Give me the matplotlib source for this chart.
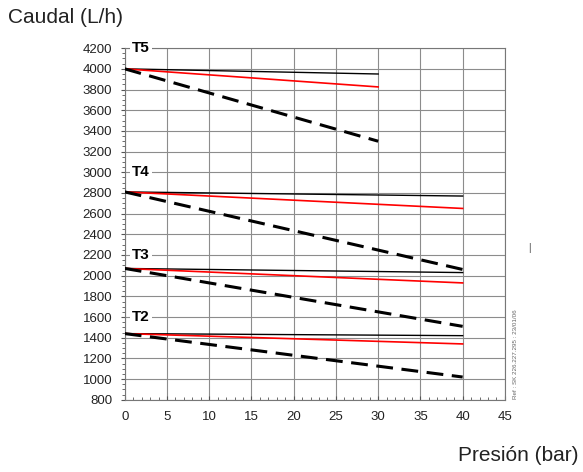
import matplotlib
matplotlib.use("Agg")
import matplotlib.pyplot as plt
from matplotlib.ticker import MultipleLocator

plt.rcParams['font.family'] = ['Liberation Sans', 'DejaVu Sans']

# curve groups: pressure end points and flow values (start, end)
groups = ["T5", "T4", "T3", "T2"]
p_end = [30, 40, 40, 40]
q_start = [4000, 2810, 2070, 1440]
q_black = [3950, 2770, 2030, 1420]
q_red = [3825, 2650, 1930, 1340]
q_dash = [3300, 2060, 1510, 1020]
label_y = [4200, 3000, 2200, 1600]

fig = plt.figure(figsize=(5.83, 4.72), dpi=100)
ax = fig.add_axes([0.214, 0.153, 0.652, 0.745])

for i, g in enumerate(groups):
    xs = [0, p_end[i]]
    ax.plot(xs, [q_start[i], q_black[i]], color="black", lw=1.0, zorder=3)
    ax.plot(xs, [q_start[i], q_red[i]], color="red", lw=1.2, zorder=3)
    ax.plot(xs, [q_start[i], q_dash[i]], color="black", lw=2.2,
            dashes=(5.5, 2.8), zorder=3)
    ax.text(0.9, label_y[i], g, fontsize=11, fontweight="bold", va="center",
            ha="left", zorder=4,
            bbox=dict(facecolor="white", edgecolor="none", pad=1.5))

ax.set_xlim(0, 45)
ax.set_ylim(800, 4200)
ax.xaxis.set_major_locator(MultipleLocator(5))
ax.xaxis.set_minor_locator(MultipleLocator(1))
ax.yaxis.set_major_locator(MultipleLocator(200))
ax.yaxis.set_minor_locator(MultipleLocator(50))
ax.grid(True, which="major", color="#8c8c8c", lw=0.8)
ax.tick_params(which="both", colors="#555555", labelcolor="#222222", labelsize=9.5)
ax.tick_params(axis="x", which="both", direction="in", pad=8)
ax.tick_params(axis="y", which="both", direction="out", pad=6)
ax.tick_params(which="major", length=3)
ax.tick_params(which="minor", length=2)
for s in ax.spines.values():
    s.set_color("#777777")
    s.set_linewidth(0.8)

fig.text(0.014, 0.962, "Caudal (L/h)", fontsize=15, color="#222222", va="center")
fig.text(0.992, 0.036, "Presión (bar)", fontsize=15, color="#222222", va="center",
         ha="right")
fig.text(0.885, 0.25, "Ref : SK 226.227.295 : 23/01/06", fontsize=4.5, color="#666666",
         rotation=90, va="center", ha="center")
fig.text(0.908, 0.475, "|", fontsize=7, color="#444444", va="center", ha="center")

fig.savefig("out.png", dpi=100)
